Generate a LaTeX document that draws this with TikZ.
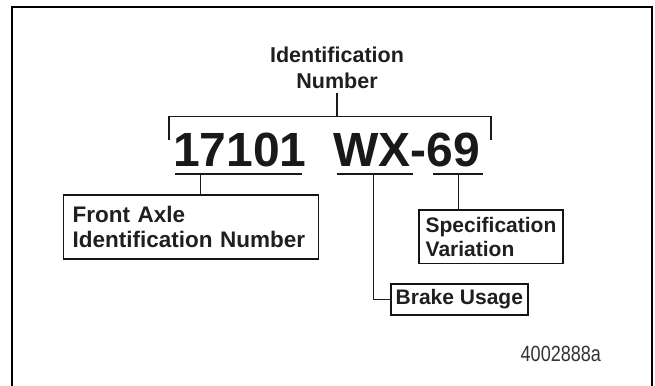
\documentclass[tikz,border=0pt]{standalone}
\usepackage{fontspec}
\setmainfont{Liberation Sans}
\newfontfamily\condfont[FakeStretch=0.82]{Liberation Sans}
\begin{document}
\begin{tikzpicture}[x=1pt,y=-1pt,
  lbl/.style={font=\fontsize{21.5}{26}\selectfont\bfseries, text=black!88, inner sep=0pt},
  boxtxt/.style={font=\fontsize{21}{24.5}\selectfont\bfseries, text=black!88},
  boxnode/.style={boxtxt, draw=black!92, line width=1.7pt, align=left, inner ysep=0pt, anchor=north west},
  bigtxt/.style={font=\fontsize{48}{48}\selectfont\bfseries, text=black!90, inner sep=0pt, anchor=base west},
  ln/.style={line width=1.5pt, draw=black!90}
]
\useasboundingbox (0,0) rectangle (655,385);
% frame
\draw[line width=2pt] (11.7,392) -- (11.7,7.3) -- (651.7,7.3) -- (651.7,392);

% top label
\node[lbl, align=center, anchor=south] (idn) at (337,89.3) {Identification\\Number};

% bracket
\coordinate (bl) at (169,140);
\coordinate (br) at (491,140);
\coordinate (brk) at (337,116.7);
\draw[ln] (bl) -- (bl |- brk) -- (br |- brk) -- (br);
\draw[ln] ([yshift=-4pt]idn.south) -- (idn.south |- brk);

% big number
\node[bigtxt] (num) at (173,166.7) {17101};
\node[bigtxt] (code) at (332.8,166.7) {WX-69};

% underlines
\coordinate (u1a) at (175,174);   \coordinate (u1b) at (301.7,174);
\coordinate (u2a) at (336.7,174); \coordinate (u2b) at (413.3,174);
\coordinate (u3a) at (433.3,174); \coordinate (u3b) at (482.7,174);
\draw[ln] (u1a) -- (u1b);
\draw[ln] (u2a) -- (u2b);
\draw[ln] (u3a) -- (u3b);
\coordinate (u1) at (200.7,174);
\coordinate (u2) at (373.3,174);
\coordinate (u3) at (458.3,174);

% boxes
\node[boxnode, font=\fontsize{22.5}{24.3}\selectfont\bfseries, inner xsep=9pt, text width=237pt, minimum width=255pt, minimum height=64.3pt] (front) at (62.7,194) {Front Axle\\Identification Number};
\node[boxnode, inner xsep=6.5pt, text width=131pt, minimum width=144pt, minimum height=53.4pt] (spec) at (418.3,209.3) {Specification\\Variation};
\node[boxnode, align=center, inner xsep=4pt, minimum width=137pt, minimum height=30.7pt] (brake) at (390,283.3) {Brake Usage};

% connectors
\draw[ln] (u1) -- (u1 |- front.north);
\draw[ln] (u3) -- (u3 |- spec.north);
\draw[ln] (u2) |- (brake.west);

% figure code
\node[anchor=base west, inner sep=0pt, font=\condfont\fontsize{22}{22}\selectfont, text=black!80] (figno) at (520.5,361.7) {4002888a};
\end{tikzpicture}
\end{document}
